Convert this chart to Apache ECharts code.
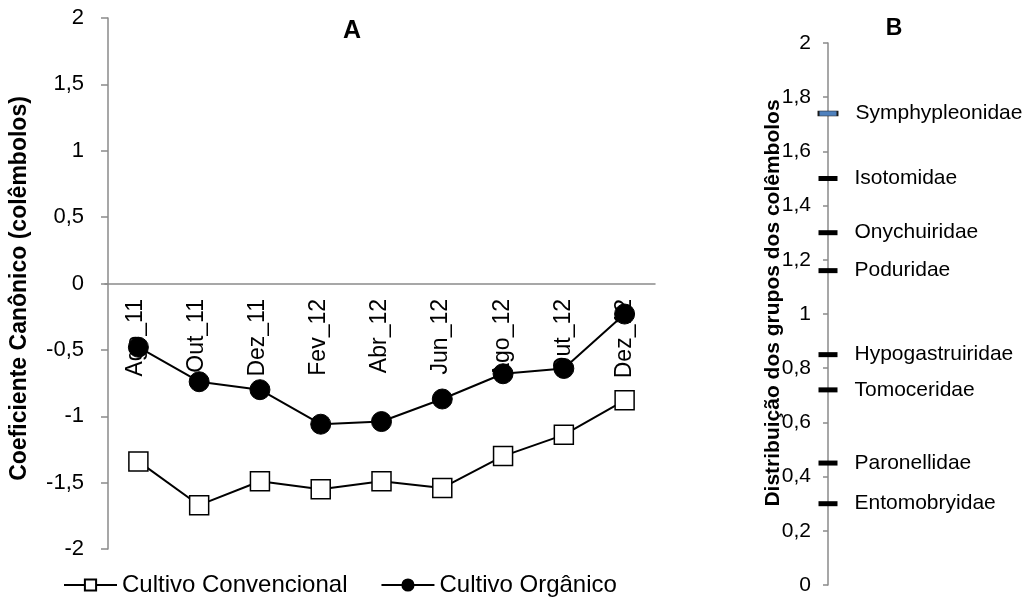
<!DOCTYPE html>
<html>
<head>
<meta charset="utf-8">
<script src="https://cdn.jsdelivr.net/npm/echarts@6/dist/echarts.min.js"></script>
<style>
  html, body { margin: 0; padding: 0; background: #fff; }
  #chart { width: 1031px; height: 616px; }
</style>
</head>
<body>
<div id="chart"></div>
<script>
const months = ['Ago_11', 'Out_11', 'Dez_11', 'Fev_12', 'Abr_12', 'Jun_12', 'Ago_12', 'Out_12', 'Dez_12']
const convencional = [-1.34, -1.67, -1.49, -1.55, -1.49, -1.54, -1.30, -1.14, -0.88]
const organico = [-0.48, -0.74, -0.80, -1.06, -1.04, -0.87, -0.68, -0.64, -0.23]

const grupos = ['Symphypleonidae', 'Isotomidae', 'Onychuiridae', 'Poduridae', 'Hypogastruiridae', 'Tomoceridae', 'Paronellidae', 'Entomobryidae']
const distribuicao = [1.74, 1.50, 1.30, 1.16, 0.85, 0.72, 0.45, 0.30]

const font = 'Liberation Sans, Arial, sans-serif'
const axisColor = '#8a8a8a'
const comma = v => String(Math.round(v * 10) / 10).replace('.', ',')

const chart = echarts.init(document.getElementById('chart'))

chart.setOption({
  animation: false,
  textStyle: { fontFamily: font, color: '#000' },
  title: [
    { text: 'A', left: 347, top: 26, textAlign: 'center', textVerticalAlign: 'middle',
      textStyle: { fontSize: 25, fontWeight: 'bold', color: '#000', fontFamily: font } },
    { text: 'B', left: 889, top: 24, textAlign: 'center', textVerticalAlign: 'middle',
      textStyle: { fontSize: 23, fontWeight: 'bold', color: '#000', fontFamily: font } }
  ],
  legend: {
    left: 58,
    top: 568,
    itemWidth: 53,
    itemHeight: 14,
    itemGap: 33,
    textStyle: { fontSize: 24, color: '#000', fontFamily: font },
    data: ['Cultivo Convencional', 'Cultivo Orgânico']
  },
  grid: [
    // plot A
    { left: 105, top: 18, width: 550, height: 531 },
    // plot B
    { left: 828, top: 43, width: 80, height: 542 },
    // upper half of A, only to carry the month axis at y = 0
    { left: 105, top: 18, width: 550, height: 266 }
  ],
  xAxis: [
    {
      type: 'category',
      gridIndex: 0,
      data: months,
      boundaryGap: true,
      show: false
    },
    {
      type: 'value',
      gridIndex: 1,
      min: 0,
      max: 1,
      show: false
    },
    {
      type: 'category',
      gridIndex: 2,
      data: months,
      boundaryGap: true,
      position: 'bottom',
      axisLine: { onZero: false, lineStyle: { color: axisColor, width: 1.5 } },
      axisTick: { length: 7, lineStyle: { color: axisColor, width: 1.5 } },
      axisLabel: { rotate: 90, margin: 15, fontSize: 23, color: '#000', fontFamily: font, interval: 0 }
    }
  ],
  yAxis: [
    {
      type: 'value',
      gridIndex: 0,
      min: -2,
      max: 2,
      interval: 0.5,
      name: 'Coeficiente Canônico (colêmbolos)',
      nameLocation: 'middle',
      nameGap: 77,
      nameMoveOverlap: false,
      nameTextStyle: { fontSize: 23, fontWeight: 'bold', color: '#000', fontFamily: font, padding: [0, 10, 0, 0] },
      splitLine: { show: false },
      axisLine: { show: true, onZero: false, lineStyle: { color: axisColor, width: 1.5 } },
      axisTick: { show: true, length: 7, lineStyle: { color: axisColor, width: 1.5 } },
      axisLabel: { margin: 24, fontSize: 22, color: '#000', fontFamily: font, formatter: comma }
    },
    {
      type: 'value',
      gridIndex: 1,
      min: 0,
      max: 2,
      interval: 0.2,
      name: 'Distribuição dos grupos dos colêmbolos',
      nameLocation: 'middle',
      nameGap: 44,
      nameMoveOverlap: false,
      nameTextStyle: { fontSize: 21, fontWeight: 'bold', color: '#000', fontFamily: font, padding: [0, 0, 0, 22] },
      splitLine: { show: false },
      axisLine: { show: true, onZero: false, lineStyle: { color: axisColor, width: 1.5 } },
      axisTick: { show: true, length: 5, lineStyle: { color: axisColor, width: 1.5 } },
      axisLabel: { margin: 17, fontSize: 21, color: '#000', fontFamily: font, formatter: comma }
    },
    {
      type: 'value',
      gridIndex: 2,
      min: 0,
      max: 1,
      show: false
    }
  ],
  series: [
    {
      name: 'Cultivo Convencional',
      type: 'line',
      xAxisIndex: 0,
      yAxisIndex: 0,
      data: convencional,
      symbol: 'rect',
      symbolSize: 19,
      lineStyle: { color: '#000', width: 2 },
      itemStyle: { color: '#fff', borderColor: '#000', borderWidth: 1.5 },
      z: 3
    },
    {
      name: 'Cultivo Orgânico',
      type: 'line',
      xAxisIndex: 0,
      yAxisIndex: 0,
      data: organico,
      symbol: 'circle',
      symbolSize: 20,
      lineStyle: { color: '#000', width: 2 },
      itemStyle: { color: '#000', borderColor: '#000', borderWidth: 1 },
      z: 3
    },
    {
      name: 'grupos',
      type: 'scatter',
      xAxisIndex: 1,
      yAxisIndex: 1,
      symbol: 'rect',
      symbolSize: [19, 5],
      clip: false,
      itemStyle: { opacity: 1 },
      data: grupos.map((g, i) => ({
        name: g,
        value: [0, distribuicao[i]],
        itemStyle: i === 0
          ? { color: '#4f81bd', borderColor: '#1a1a1a', borderWidth: 1, opacity: 1 }
          : { color: '#000', opacity: 1 }
      })),
      label: {
        show: true,
        position: 'right',
        distance: 17,
        formatter: p => p.name,
        fontSize: 21,
        color: '#000',
        opacity: 1,
        fontFamily: font
      }
    }
  ]
})
</script>
</body>
</html>
